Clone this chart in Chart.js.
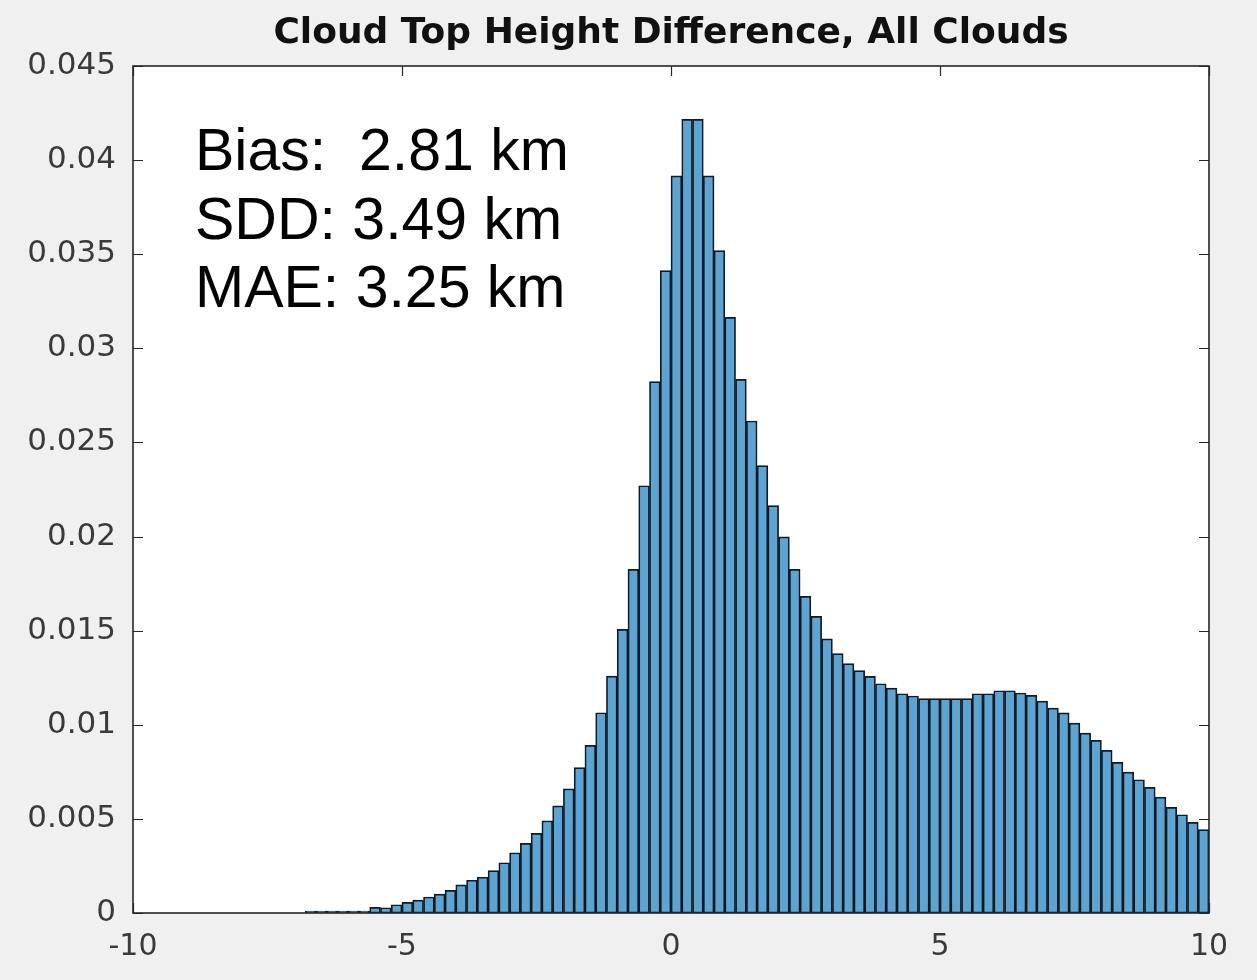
<!DOCTYPE html>
<html>
<head>
<meta charset="utf-8">
<title>Cloud Top Height Difference, All Clouds</title>
<script src="https://cdn.jsdelivr.net/npm/chart.js@4.4.1/dist/chart.umd.min.js"></script>
<style>
  html, body { margin: 0; padding: 0; background: #f0f0f0; }
  canvas { display: block; }
</style>
</head>
<body>
<canvas id="histogram" width="1257" height="980"></canvas>
<script>
// Histogram bins (left edges, km) and normalised counts per bin
const binWidth = 0.2;
const binLeftEdges = [
  -6.8, -6.6, -6.4, -6.2, -6.0, -5.8, -5.6, -5.4, -5.2, -5.0,
  -4.8, -4.6, -4.4, -4.2, -4.0, -3.8, -3.6, -3.4, -3.2, -3.0,
  -2.8, -2.6, -2.4, -2.2, -2.0, -1.8, -1.6, -1.4, -1.2, -1.0,
  -0.8, -0.6, -0.4, -0.2, 0.0, 0.2, 0.4, 0.6, 0.8, 1.0,
  1.2, 1.4, 1.6, 1.8, 2.0, 2.2, 2.4, 2.6, 2.8, 3.0,
  3.2, 3.4, 3.6, 3.8, 4.0, 4.2, 4.4, 4.6, 4.8, 5.0,
  5.2, 5.4, 5.6, 5.8, 6.0, 6.2, 6.4, 6.6, 6.8, 7.0,
  7.2, 7.4, 7.6, 7.8, 8.0, 8.2, 8.4, 8.6, 8.8, 9.0,
  9.2, 9.4, 9.6, 9.8
];
const probability = [
  0.0001, 0.0001, 0.0001, 0.0001, 0.0001, 0.0001, 0.0003, 0.00028, 0.00044, 0.00057,
  0.00069, 0.00085, 0.0010, 0.0012, 0.00149, 0.00174, 0.0019, 0.00225, 0.00267, 0.0032,
  0.0037, 0.00423, 0.0049, 0.00569, 0.0066, 0.00772, 0.00891, 0.01064, 0.01259, 0.01507,
  0.01826, 0.0227, 0.02823, 0.03413, 0.03916, 0.04217, 0.04217, 0.03916, 0.03519, 0.03165,
  0.02835, 0.02614, 0.02377, 0.02164, 0.01998, 0.01826, 0.01682, 0.01576, 0.01456, 0.01378,
  0.01325, 0.01288, 0.01257, 0.01218, 0.01195, 0.01165, 0.01153, 0.01139, 0.01139, 0.01139,
  0.01139, 0.01139, 0.01165, 0.01165, 0.01181, 0.01181, 0.01169, 0.01156, 0.01126, 0.01089,
  0.01063, 0.01009, 0.00956, 0.00917, 0.00864, 0.0080, 0.00749, 0.00708, 0.00668, 0.00615,
  0.00561, 0.00522, 0.00482, 0.00443
];

// Axis ticks
const xTickValues = [-10, -5, 0, 5, 10];
const yTickValues = [0, 0.005, 0.01, 0.015, 0.02, 0.025, 0.03, 0.035, 0.04, 0.045];

// Text
const chartTitle = 'Cloud Top Height Difference, All Clouds';
const statLines = ['Bias:  2.81 km', 'SDD: 3.49 km', 'MAE: 3.25 km'];

const barPoints = binLeftEdges.map((edge, i) => ({ x: +(edge + binWidth / 2).toFixed(2), y: probability[i] }));

const AXIS_COLOR = '#262626';
const LABEL_COLOR = '#3a3a3a';

// Grey figure background with a white axes box
const backgroundPlugin = {
  id: 'figureBackground',
  beforeDraw(chart) {
    const { ctx, chartArea: a } = chart;
    ctx.save();
    ctx.fillStyle = '#f0f0f0';
    ctx.fillRect(0, 0, chart.width, chart.height);
    ctx.fillStyle = '#ffffff';
    ctx.fillRect(a.left, a.top, a.right - a.left, a.bottom - a.top);
    ctx.restore();
  }
};

// Inward tick marks on all four sides of the box
const innerTicksPlugin = {
  id: 'innerTicks',
  beforeDatasetsDraw(chart) {
    const { ctx, chartArea: a, scales } = chart;
    const len = 10;
    ctx.save();
    ctx.strokeStyle = AXIS_COLOR;
    ctx.lineWidth = 1.2;
    ctx.beginPath();
    xTickValues.forEach(v => {
      const px = Math.round(scales.x.getPixelForValue(v)) + 0.5;
      ctx.moveTo(px, a.bottom); ctx.lineTo(px, a.bottom - len);
      ctx.moveTo(px, a.top); ctx.lineTo(px, a.top + len);
    });
    yTickValues.forEach(v => {
      const py = Math.round(scales.y.getPixelForValue(v)) + 0.5;
      ctx.moveTo(a.left, py); ctx.lineTo(a.left + len, py);
      ctx.moveTo(a.right, py); ctx.lineTo(a.right - len, py);
    });
    ctx.stroke();
    ctx.restore();
  }
};

// Box outline and the statistics text block
const boxAndStatsPlugin = {
  id: 'boxAndStats',
  afterDatasetsDraw(chart) {
    const { ctx, chartArea: a } = chart;
    ctx.save();
    ctx.strokeStyle = AXIS_COLOR;
    ctx.lineWidth = 1.6;
    ctx.strokeRect(a.left, a.top, a.right - a.left, a.bottom - a.top);

    ctx.fillStyle = '#000000';
    ctx.font = '59px "Liberation Sans", Arial, sans-serif';
    ctx.textAlign = 'left';
    ctx.textBaseline = 'alphabetic';
    statLines.forEach((line, i) => {
      ctx.fillText(line, a.left + 62, a.top + 104 + i * 68.5);
    });
    ctx.restore();
  }
};

new Chart(document.getElementById('histogram'), {
  type: 'bar',
  data: {
    datasets: [{
      data: barPoints,
      backgroundColor: '#5ea4d3',
      borderColor: '#101a24',
      borderWidth: 1.7,
      borderSkipped: false,
      barPercentage: 1.0,
      categoryPercentage: 1.0
    }]
  },
  options: {
    responsive: false,
    animation: false,
    devicePixelRatio: 1,
    layout: { padding: { left: 0, right: 48, top: 0, bottom: 0 } },
    plugins: {
      legend: { display: false },
      tooltip: { enabled: false },
      title: {
        display: true,
        fullSize: false,
        text: chartTitle,
        color: '#111111',
        font: { family: '"DejaVu Sans", sans-serif', size: 36, weight: 'bold', lineHeight: 1.2 },
        padding: { top: 12.5, bottom: 10.3 }
      }
    },
    scales: {
      x: {
        type: 'linear',
        min: -10,
        max: 10,
        offset: false,
        afterFit(scale) { scale.height = 67; },
        afterBuildTicks(scale) { scale.ticks = xTickValues.map(v => ({ value: v })); },
        ticks: {
          color: LABEL_COLOR,
          font: { family: '"DejaVu Sans", sans-serif', size: 30 },
          padding: 16,
          maxRotation: 0,
          autoSkip: false,
          callback: v => String(v)
        },
        grid: { display: false, drawTicks: false },
        border: { display: false }
      },
      y: {
        type: 'linear',
        min: 0,
        max: 0.045,
        afterFit(scale) { scale.width = 133; },
        afterBuildTicks(scale) { scale.ticks = yTickValues.map(v => ({ value: v })); },
        ticks: {
          color: LABEL_COLOR,
          font: { family: '"DejaVu Sans", sans-serif', size: 31 },
          padding: 17,
          autoSkip: false,
          callback: v => String(+v.toFixed(3))
        },
        grid: { display: false, drawTicks: false },
        border: { display: false }
      }
    }
  },
  plugins: [backgroundPlugin, innerTicksPlugin, boxAndStatsPlugin]
});
</script>
</body>
</html>
